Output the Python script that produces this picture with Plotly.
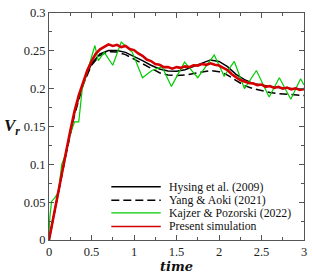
import plotly.graph_objects as go

# ---------------- data ----------------
t_ref = [0, 0.1, 0.2, 0.3, 0.4, 0.5, 0.6, 0.7, 0.8, 0.9, 1.0, 1.1, 1.2, 1.3, 1.4, 1.5,
         1.6, 1.7, 1.8, 1.9, 2.0, 2.1, 2.2, 2.3, 2.4, 2.5, 2.6, 2.7, 2.8, 2.9, 3.0]
v_hysing = [0, 0.058, 0.115, 0.168, 0.207, 0.233, 0.246, 0.2505, 0.2505, 0.248, 0.243,
            0.237, 0.231, 0.226, 0.2235, 0.223, 0.225, 0.229, 0.234, 0.238, 0.236, 0.229,
            0.219, 0.212, 0.207, 0.2045, 0.203, 0.2015, 0.2005, 0.1995, 0.199]
v_yang = [0, 0.057, 0.113, 0.165, 0.205, 0.231, 0.244, 0.249, 0.2485, 0.245, 0.239,
          0.232, 0.226, 0.221, 0.218, 0.2175, 0.218, 0.2195, 0.222, 0.224, 0.2225, 0.218,
          0.211, 0.204, 0.200, 0.197, 0.195, 0.1935, 0.1925, 0.1915, 0.191]

t_kaj = [0, 0.01, 0.03, 0.07, 0.11, 0.15, 0.19, 0.25, 0.30, 0.35, 0.39, 0.54, 0.58,
         0.65, 0.75, 0.85, 0.98, 1.10, 1.21, 1.33, 1.44, 1.595, 1.75, 1.944, 2.06, 2.18,
         2.30, 2.44, 2.59, 2.71, 2.845, 2.96, 3.0]
v_kaj = [0.01, 0.03, 0.051, 0.056, 0.063, 0.100, 0.112, 0.140, 0.156, 0.156, 0.199, 0.257,
         0.237, 0.248, 0.231, 0.2615, 0.248, 0.2145, 0.224, 0.229, 0.203, 0.235, 0.2145,
         0.2445, 0.2167, 0.236, 0.200, 0.224, 0.189, 0.2145, 0.186, 0.213, 0.205]

t_sim = [0.00, 0.05, 0.10, 0.15, 0.20, 0.25, 0.30, 0.35, 0.40, 0.45, 0.50, 0.55, 0.60,
         0.65, 0.70, 0.75, 0.80, 0.85, 0.90, 0.95, 1.00, 1.05, 1.10, 1.15, 1.20, 1.25,
         1.30, 1.35, 1.40, 1.45, 1.50, 1.55, 1.60, 1.65, 1.70, 1.75, 1.80, 1.85, 1.90,
         1.95, 2.00, 2.05, 2.10, 2.15, 2.20, 2.25, 2.30, 2.35, 2.40, 2.45, 2.50, 2.55,
         2.60, 2.65, 2.70, 2.75, 2.80, 2.85, 2.90, 2.95, 3.00]
v_sim = [0.000, 0.030, 0.059, 0.087, 0.116, 0.144, 0.170, 0.191, 0.209, 0.224, 0.236,
         0.246, 0.252, 0.2555, 0.2585, 0.2565, 0.258, 0.255, 0.2565, 0.2525, 0.251,
         0.2465, 0.2435, 0.2385, 0.2365, 0.2325, 0.2315, 0.2285, 0.2285, 0.2265, 0.2285,
         0.2275, 0.2295, 0.2285, 0.231, 0.2305, 0.2325, 0.2315, 0.2335, 0.2315, 0.2305,
         0.2275, 0.2245, 0.219, 0.2155, 0.2115, 0.2095, 0.2075, 0.207, 0.2045, 0.2055,
         0.2025, 0.2035, 0.2010, 0.2025, 0.2000, 0.2015, 0.1990, 0.2005, 0.1985, 0.1995]

labels = ["Hysing et al. (2009)", "Yang & Aoki (2021)",
          "Kajzer & Pozorski (2022)", "Present simulation"]
x_ticks = [0, 0.5, 1, 1.5, 2, 2.5, 3]
x_ticklabels = ["0", "0.5", "1", "1.5", "2", "2.5", "3"]
y_ticks = [0, 0.05, 0.1, 0.15, 0.2, 0.25, 0.3]
y_ticklabels = ["0", "0.05", "0.1", "0.15", "0.2", "0.25", "0.3"]

# ---------------- styles ----------------
SERIF = "Liberation Serif"
styles = [
    dict(color="#000000", width=1.5, dash="solid"),
    dict(color="#000000", width=1.5, dash="8px,4px"),
    dict(color="#00cc00", width=1.2, dash="solid"),
    dict(color="#d40000", width=2.6, dash="solid"),
]

fig = go.Figure()
series = [(t_ref, v_hysing), (t_ref, v_yang), (t_kaj, v_kaj), (t_sim, v_sim)]
for (xs, ys), lab, st in zip(series, labels, styles):
    fig.add_trace(go.Scatter(x=xs, y=ys, mode="lines", name=lab, line=st,
                             showlegend=False))

# manual legend (decoration)
leg_y = [0.0705, 0.0526, 0.0359, 0.0179]
for lab, st, yy in zip(labels, styles, leg_y):
    fig.add_shape(type="line", xref="x", yref="y", x0=0.733, x1=1.315, y0=yy, y1=yy,
                  line=dict(color=st["color"], width=min(st["width"], 1.6), dash=st["dash"]))
    fig.add_annotation(xref="x", yref="y", x=1.39, y=yy, text=lab, showarrow=False,
                       xanchor="left", yanchor="middle",
                       font=dict(family=SERIF, size=11.8, color="#111"))

axis_common = dict(
    showline=True, linecolor="#555", linewidth=1, mirror="allticks",
    ticks="inside", ticklen=5, tickwidth=1, tickcolor="#555",
    showgrid=False, zeroline=False, ticklabeloverflow="allow",
    tickfont=dict(family=SERIF, size=12.5, color="#222"),
)
fig.update_xaxes(range=[0, 3], tickvals=x_ticks, ticktext=x_ticklabels,
                 minor=dict(dtick=0.25, ticks="inside", ticklen=3, tickcolor="#555",
                            showgrid=False),
                 **axis_common)
fig.update_yaxes(range=[0, 0.3], tickvals=y_ticks, ticktext=y_ticklabels,
                 minor=dict(dtick=0.025, ticks="inside", ticklen=3, tickcolor="#555",
                            showgrid=False),
                 **axis_common)

fig.add_annotation(xref="paper", yref="paper", x=0.5, y=-0.116, yanchor="middle",
                   text="<b><i>time</i></b>", showarrow=False, borderpad=0,
                   font=dict(family="DejaVu Serif", size=13, color="#111"))
fig.add_annotation(xref="paper", yref="paper", x=-0.185, y=0.5, xanchor="left",
                   yanchor="middle",
                   text="<b><i>V</i></b><sub><b><i>r</i></b></sub>", showarrow=False,
                   font=dict(family=SERIF, size=17, color="#111"))

fig.update_layout(width=313, height=273,
                  margin=dict(l=49, r=6, t=6, b=33),
                  plot_bgcolor="white", paper_bgcolor="white")

fig.write_html("out.html", config={"displayModeBar": False},
               post_script="document.body.style.margin='0';document.body.style.overflow='hidden';")
